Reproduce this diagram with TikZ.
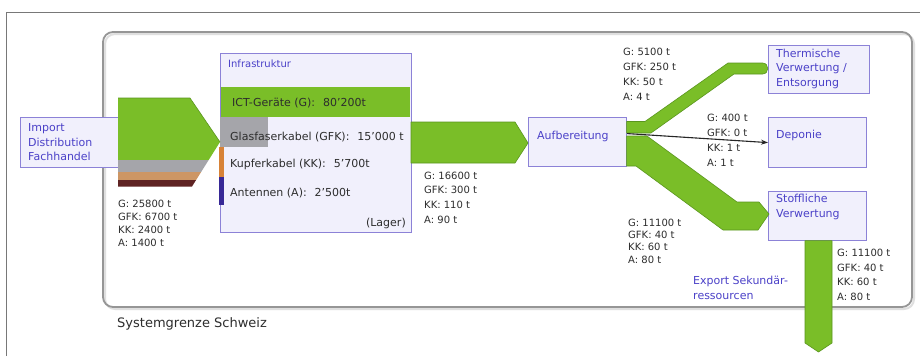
\documentclass[tikz,border=0pt]{standalone}
\usepackage{fontspec}
\setmainfont{DejaVu Sans}
\usetikzlibrary{arrows.meta}
\definecolor{boxline}{RGB}{140,130,215}
\definecolor{boxfill}{RGB}{241,240,252}
\definecolor{boxtext}{RGB}{75,65,200}
\definecolor{flowgreen}{RGB}{122,190,40}
\definecolor{flowedge}{RGB}{90,150,30}
\definecolor{labtext}{RGB}{45,45,45}
\definecolor{layergray}{RGB}{165,165,170}
\definecolor{layertan}{RGB}{205,150,100}
\definecolor{layerbrown}{RGB}{95,35,35}
\definecolor{barorange}{RGB}{215,130,55}
\definecolor{barblue}{RGB}{55,40,150}
\definecolor{framegray}{RGB}{120,120,120}
\definecolor{sysgray}{RGB}{150,150,150}
\begin{document}
\begin{tikzpicture}[x=1pt,y=-1pt,
  procbox/.style={draw=boxline, fill=boxfill, line width=1.2pt, anchor=north west, inner sep=0pt, rectangle},
  btext/.style={anchor=base west, inner sep=0pt, align=left, text=boxtext, font=\fontsize{11}{15}\selectfont},
  flowlab/.style={anchor=base west, inner sep=0pt, align=left, text=labtext},
  itemtext/.style={anchor=base west, inner sep=0pt, text=labtext, font=\fontsize{11}{13}\selectfont},
  flow/.style={fill=flowgreen, draw=flowedge, line width=0.6pt, line join=round}
]
\useasboundingbox (0,0) rectangle (920,356);
\fill[white] (0,0) rectangle (920,356);
\draw[framegray, line width=0.8pt] (6,356) -- (6,12) -- (920,12);

% system boundary
\draw[gray!25, line width=2pt, rounded corners=10pt] (105,34) rectangle (914,309);
\draw[sysgray, line width=1.8pt, rounded corners=10pt] (103,32) rectangle (912,307);
\node[anchor=base west, inner sep=0pt, text=labtext, font=\fontsize{13}{15}\selectfont] (sysname) at (117,327) {Systemgrenze Schweiz};

% import box
\node[procbox, minimum width=104pt, minimum height=50pt] (import) at (20,117) {};
\node[btext, font=\fontsize{11}{14.5}\selectfont] (importT) at (28,160.5) {Import\\Distribution\\Fachhandel};

% infrastructure box
\node[procbox, minimum width=191pt, minimum height=179pt] (infra) at (220,53) {};
\fill[flowgreen] (220.6,87) rectangle (410.4,117);
\fill[layergray] (220,117) rectangle (268,147);
\fill[barorange] (219.4,147) rectangle (223.6,177);
\fill[barblue] (219.4,177) rectangle (223.6,205);
\node[btext, font=\fontsize{10}{12}\selectfont] (infraT) at (228,67) {Infrastruktur};
\node[itemtext] (ict) at (232,106) {ICT-Geräte (G):\hspace{0.4em} 80'200t};
\node[itemtext] (gfk) at (230,140) {Glasfaserkabel (GFK):\hspace{0.4em} 15'000 t};
\node[itemtext] (kk) at (230,167) {Kupferkabel (KK):\hspace{0.4em} 5'700t};
\node[itemtext] (ant) at (230,196) {Antennen (A):\hspace{0.4em} 2'500t};
\node[itemtext, anchor=base east] (lager) at (406,226) {(Lager)};

% import flow (layered)
\begin{scope}
  \clip (118,98) -- (190,98) -- (220,142) -- (192,186.5) -- (118,186.5) -- cycle;
  \fill[flowgreen] (110,90) rectangle (230,159.5);
  \fill[layergray] (110,159.5) rectangle (230,172);
  \fill[layertan] (110,172) rectangle (230,180);
  \fill[layerbrown] (110,180) rectangle (230,190);
\end{scope}
\draw[flowedge, line width=0.6pt, line join=round] (118,98) -- (190,98) -- (220,142);

% processing
\node[procbox, minimum width=98pt, minimum height=49pt] (aufb) at (528,117) {};
\node[btext] (aufbT) at (537,139) {Aufbereitung};

% targets
\node[procbox, minimum width=101pt, minimum height=48pt] (therm) at (768,45) {};
\node[btext, font=\fontsize{11}{14.5}\selectfont] (thermT) at (776,86) {Thermische\\Verwertung /\\Entsorgung};
\node[procbox, minimum width=98pt, minimum height=50pt] (depo) at (768,117) {};
\node[btext] (depoT) at (776,138) {Deponie};
\node[procbox, minimum width=98pt, minimum height=49pt] (stoff) at (768,191) {};
\node[btext] (stoffT) at (776,217) {Stoffliche\\Verwertung};

% flows
\draw[flow] (411,122) -- (515,122) -- (528,143) -- (515,163) -- (411,163) -- cycle;
\draw[flow] (626.6,121.5) -- (645,121.5) -- (728,63) -- (762.5,63)
  .. controls (769.5,63) and (769.5,74) .. (762.5,74) -- (734,74) -- (651,133) -- (626.6,133) -- cycle;
\draw[flow] (626.6,136) -- (647,136) -- (737,202) -- (759,202) -- (769,214) -- (758,230) -- (723,230) -- (636,166) -- (626.6,166) -- cycle;
\draw[flow] (805,240.6) -- (805,343) -- (818.5,352) -- (832,343) -- (832,240.6) -- cycle;

% labels
\node[flowlab, font=\fontsize{10}{13.3}\selectfont] (lab1) at (118,246.9) {G: 25800 t\\GFK: 6700 t\\KK: 2400 t\\A: 1400 t};
\node[flowlab, font=\fontsize{10}{14.7}\selectfont] (lab2) at (424,223.1) {G: 16600 t\\GFK: 300 t\\KK: 110 t\\A: 90 t};
\node[flowlab, font=\fontsize{10}{15}\selectfont] (lab3) at (623,100.5) {G: 5100 t\\GFK: 250 t\\KK: 50 t\\A: 4 t};
\node[flowlab, font=\fontsize{10}{15}\selectfont] (lab4) at (707,166.5) {G: 400 t\\GFK: 0 t\\KK: 1 t\\A: 1 t};
\node[flowlab, font=\fontsize{10}{12.2}\selectfont] (lab5) at (628,263.1) {G: 11100 t\\GFK: 40 t\\KK: 60 t\\A: 80 t};
\node[flowlab, font=\fontsize{10}{14.7}\selectfont] (lab6) at (837,300.6) {G: 11100 t\\GFK: 40 t\\KK: 60 t\\A: 80 t};
\node[btext] (exportT) at (693,299) {Export Sekundär-\\ressourcen};

% landfill arrow
\draw[line width=1.1pt, draw=black!85, -{Stealth[length=7pt, width=5pt]}] ([yshift=8.5pt]aufb.east) -- (depo.west);
\end{tikzpicture}
\end{document}
